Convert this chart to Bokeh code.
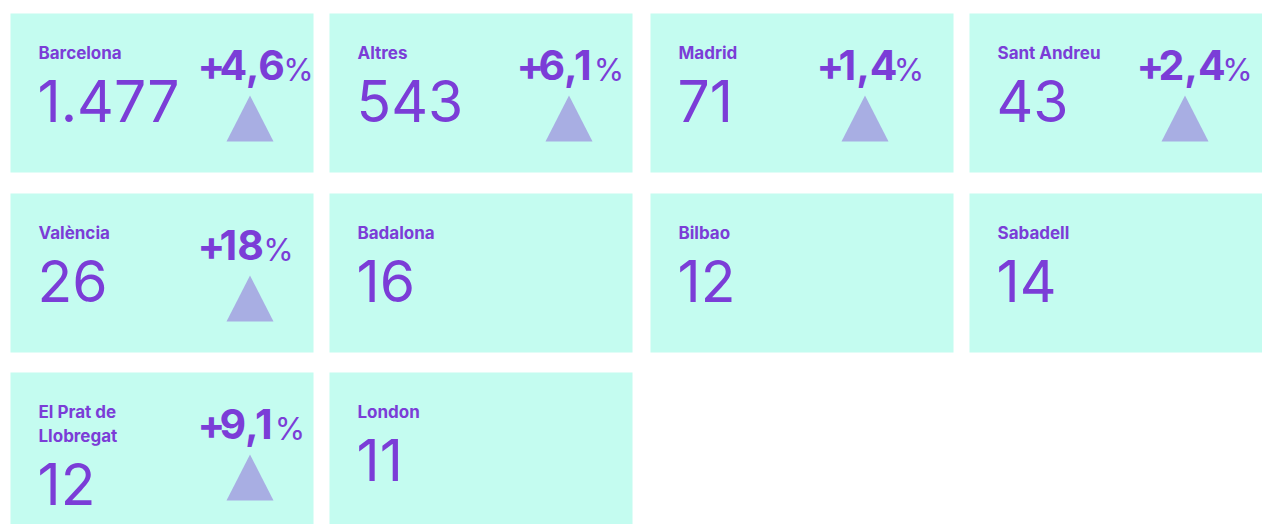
from bokeh.plotting import figure
from bokeh.models import Range1d
from bokeh.core.properties import value
from bokeh.embed import file_html
from bokeh.resources import INLINE

# ---- data ----
names = ["Barcelona", "Altres", "Madrid", "Sant Andreu", "València",
         "Badalona", "Bilbao", "Sabadell", "El Prat de\nLlobregat", "London"]
counts = [1477, 543, 71, 43, 26, 16, 12, 14, 12, 11]
deltas = [4.6, 6.1, 1.4, 2.4, 18, None, None, None, 9.1, None]

# ---- layout ----
W, H = 1262, 524
col_left = [10, 329, 650, 969]
row_top = [13, 193, 372]
card_w = 303
card_h = [159, 159, 170]
delta_dx = [189, 189, 168, 169]
tri_dx = [239.5, 239.5, 214.5, 215.5]

BG = "#C4FCF0"
PURPLE = "#7B3DD7"
TRI = "#A8AEE3"
FONT = "Inter"

def fmt_count(v):
    return f"{v:,}".replace(",", ".")

def fmt_delta(d):
    return f"{d:.2g}".replace(".", ",")

# width estimates for Inter Bold digits (em)
CW = {"1": 0.41, ",": 0.28}
def num_width(s, size):
    return sum(CW.get(c, 0.62) for c in s) * size

NUM_SIZE = 41

p = figure(width=W, height=H, x_range=Range1d(0, W), y_range=Range1d(H, 0),
           output_backend="svg", toolbar_location=None, min_border=0)
p.axis.visible = False
p.grid.visible = False
p.outline_line_color = None
p.background_fill_color = "white"
p.border_fill_color = "white"

cl, cr, ct, cb = [], [], [], []
tx, ty, tt = [], [], []
vx, vy, vt = [], [], []
px_, py_ = [], []
nx, ny, nt = [], [], []
pcx, pcy = [], []
txs, tys = [], []

for i, (nm, c, d) in enumerate(zip(names, counts, deltas)):
    r, k = divmod(i, 4)
    x0 = col_left[k]
    y0 = row_top[r]
    cl.append(x0); cr.append(x0 + card_w); ct.append(y0); cb.append(y0 + card_h[r])
    lines = nm.split("\n")
    for j, ln in enumerate(lines):
        tx.append(x0 + 28); ty.append(y0 + 39.5 + 24 * j); tt.append(ln)
    vx.append(x0 + 27); vy.append(y0 + 87 + 24 * (len(lines) - 1)); vt.append(fmt_count(c))
    if d is not None:
        ds = fmt_delta(d)
        dxl = x0 + delta_dx[k]
        by = y0 + 51.5
        px_.append(dxl - 2); py_.append(by)
        nxx = dxl + 20
        nx.append(nxx); ny.append(by); nt.append(ds)
        pcx.append(nxx + num_width(ds, NUM_SIZE) + 1.5); pcy.append(by + 4.5)
        cx = x0 + tri_dx[k]
        txs.append([cx - 23.5, cx, cx + 23.5])
        tys.append([y0 + 128, y0 + 82, y0 + 128])

p.quad(left=cl, right=cr, top=ct, bottom=cb, fill_color=BG, line_color=None)
p.patches(xs=txs, ys=tys, fill_color=TRI, line_color=None)

p.text(x=tx, y=ty, text=tt, text_font=value(FONT), text_font_style="bold",
       text_font_size="17px", text_color=PURPLE, text_baseline="alphabetic")
p.text(x=vx, y=vy, text=vt, text_font=value(FONT), text_font_size="57px",
       text_color=PURPLE, text_baseline="alphabetic")
p.text(x=px_, y=py_, text=["+"] * len(px_), text_font=value(FONT), text_font_style="bold",
       text_font_size=f"{NUM_SIZE}px", text_color=PURPLE, text_baseline="alphabetic")
p.text(x=nx, y=ny, text=nt, text_font=value(FONT), text_font_style="bold",
       text_font_size=f"{NUM_SIZE}px", text_color=PURPLE, text_baseline="alphabetic")
p.text(x=pcx, y=pcy, text=["%"] * len(pcx), text_font=value(FONT),
       text_font_size="31px", text_color=PURPLE, text_baseline="alphabetic")

open("out.html", "w").write(file_html(p, INLINE))
